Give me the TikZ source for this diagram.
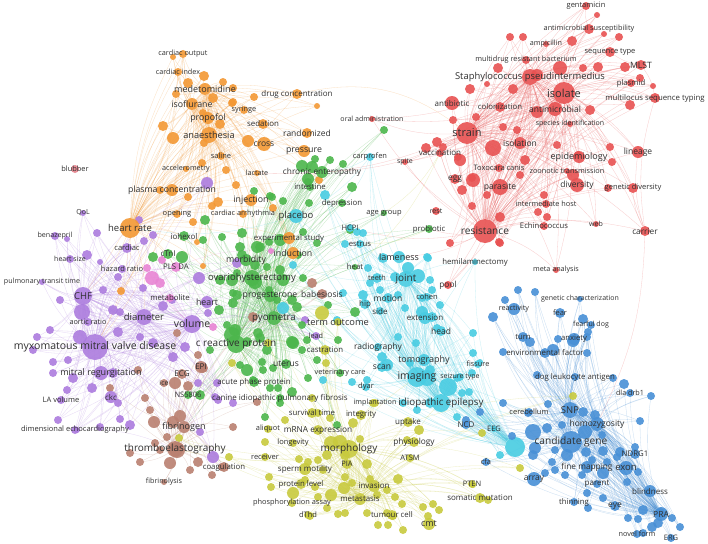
\documentclass[tikz,border=0pt]{standalone}
\usepackage{fontspec}
\setmainfont{Open Sans}
\pgfdeclarelayer{bg}\pgfdeclarelayer{fg}\pgfsetlayers{bg,main,fg}
\definecolor{cR}{RGB}{232,82,82}
\definecolor{cO}{RGB}{243,152,52}
\definecolor{cG}{RGB}{76,182,76}
\definecolor{cB}{RGB}{72,144,214}
\definecolor{cY}{RGB}{200,202,62}
\definecolor{cP}{RGB}{172,124,222}
\definecolor{cC}{RGB}{72,204,226}
\definecolor{cBr}{RGB}{186,128,112}
\definecolor{cPk}{RGB}{232,132,212}
\definecolor{cRl}{RGB}{230,130,140}
\definecolor{txt}{RGB}{48,48,48}
\tikzset{
 bub/.style={circle,inner sep=0pt,draw=none,fill opacity=0.9},
 lab/.style={inner sep=0pt,text=txt},
 lnk/.style={draw=#1,line width=0.3pt,draw opacity=0.3,bend left=12}
}
\newcommand\D[5]{\node[bub,fill=#5,minimum size={2*#4pt}] (#1) at (#2,#3) {};}
\newcommand\K[7]{\D{#1}{#2}{#3}{#4}{#5}\begin{pgfonlayer}{fg}\node[lab,font=\fontsize{#6}{#6}\selectfont] (#1t) at (#2,#3) {#7};\end{pgfonlayer}}
\begin{document}
\begin{tikzpicture}[x=1pt,y=-1pt]
\begin{pgfonlayer}{bg}
\fill[white] (0,0) rectangle (708,543);
\end{pgfonlayer}
\path[use as bounding box] (0,0) rectangle (708,543);
% ---------- red dots
\foreach \n/\x/\y/\q in {1/510/37/4,2/523/37/4,3/572/41/5,4/597/15/3,5/604/34/3,6/619/37/4,7/498/68/5,8/537/75/6,9/560/68/7,10/583/68/4,11/598/67/5,12/625/67/5,13/640/78/4,14/653/86/3,15/630/105/5,16/470/89/5,17/487/84/3,18/513/89/5,19/537/112/6,20/476/117/4,21/503/127/4,22/493/148/8,23/517/130/4,24/557/145/4,25/578/155/4,26/610/147/4,27/612/162/4,28/573/175/6,29/520/175/4,30/472/178/4,31/426/148/5,32/437/142/5,33/443/147/4,34/453/120/4,35/462/190/5,36/473/180/7,37/487/195/4,38/472/206/4,39/500/217/5,40/458/157/4,41/450/243/4,42/500/243/4,43/547/217/4,44/538/212/4,45/499/242/4,46/608/188/4,47/544/195/4,48/460/160/6,49/525/160/5,50/590/110/5}
 {\D{r\n}{\x}{\y}{\q}{cR}}
% ---------- orange dots
\foreach \n/\x/\y/\q in {1/173/57/3,2/204/76/5,3/188/83/5,4/223/82/4,5/176/94/4,6/213/98/5,7/232/103/4,8/203/113/4,9/220/124/5,10/163/126/5,11/173/138/6,12/204/143/4,13/202/163/4,14/233/88/4,15/233/102/4,16/254/97/4,17/317/106/3,18/248/141/6,19/319/180/4,20/160/190/4,21/193/222/4,22/212/206/4,23/218/202/5,24/197/242/3,25/203/266/3,26/188/197/4,27/273/208/4,28/121/291/4,29/236/185/4,30/226/170/4}
 {\D{o\n}{\x}{\y}{\q}{cO}}
% ---------- purple dots
\foreach \n/\x/\y/\q in {1/207/183/6,2/97/233/4,3/67/239/3,4/87/255/5,5/100/262/3,6/144/241/4,7/153/235/4,8/139/220/4,9/118/277/4,10/103/290/4,11/82/312/8,12/113/310/5,13/120/312/4,14/163/306/5,15/172/300/4,16/199/278/6,17/208/313/4,18/50/330/4,19/37/337/4,20/80/337/7,21/118/332/5,22/140/337/4,23/153/343/5,24/173/357/5,25/53/362/4,26/68/360/4,27/73/378/5,28/92/388/5,29/67/390/4,30/53/373/4,31/113/373/5,32/118/403/4,33/58/420/4,34/130/425/5,35/120/419/4,36/77/430/3,37/100/427/4,38/198/383/4,39/217/383/4,40/200/432/4,41/213/457/6,42/218/400/4,43/233/403/4,44/185/347/5,45/305/320/4,46/237/263/5,47/215/397/4,48/143/288/4,49/60/300/4,50/33/350/4}
 {\D{p\n}{\x}{\y}{\q}{cP}}
% ---------- pink dots
\foreach \n/\x/\y/\q in {1/152/278/7,2/147/268/4,3/162/260/4,4/160/283/5,5/271/251/3,6/213/327/4}
 {\D{k\n}{\x}{\y}{\q}{cPk}}
% ---------- brown dots
\foreach \n/\x/\y/\q in {1/312/283/5,2/253/317/5,3/177/333/4,4/198/355/4,5/203/368/5,6/188/386/5,7/175/383/6,8/145/398/4,9/257/402/4,10/138/370/4,11/110/388/4,12/150/410/4,13/154/422/6,14/173/422/6,15/180/416/6,16/167/437/4,17/155/443/4,18/177/450/8,19/170/463/6,20/198/462/5,21/212/475/4,22/160/450/4,23/130/453/4,24/233/427/4,25/190/470/4,26/222/467/4,27/140/462/4}
 {\D{n\n}{\x}{\y}{\q}{cBr}}
% ---------- green dots
\foreach \n/\x/\y/\q in {1/352/187/5,2/309/203/4,3/272/197/4,4/242/233/5,5/260/247/5,6/280/240/6,7/298/255/4,8/242/255/5,9/255/265/5,10/280/270/5,11/303/278/4,12/232/280/6,13/255/282/7,14/269/290/4,15/237/295/5,16/277/300/4,17/297/307/5,18/328/305/4,19/235/330/6,20/258/333/5,21/293/343/6,22/302/325/4,23/307/340/4,24/338/340/4,25/317/360/4,26/355/312/5,27/308/182/4,28/254/191/4,29/270/196/4,30/283/201/4,31/303/232/4,32/302/166/6,33/315/159/4,34/312/167/6,35/330/160/4,36/308/179/6,37/343/164/4,38/384/130/4,39/205/220/5,40/222/237/4,41/203/240/4,42/153/257/5,43/182/257/6,44/240/247/5,45/257/247/6,46/269/242/4,47/317/243/4,48/267/267/4,49/283/280/6,50/237/273/4,51/233/293/4,52/233/303/5,53/227/325/4,54/232/335/8,55/247/342/5,56/260/338/5,57/267/350/5,58/292/342/6,59/302/350/4,60/273/368/4,61/262/362/4,62/247/370/6,63/240/365/4,64/253/380/4,65/270/388/4,66/292/392/5,67/265/417/4,68/210/350/4,69/219/310/5,70/308/378/4,71/337/425/4,72/278/388/4,73/263/370/4,74/280/403/4,75/200/395/5,76/292/300/5,77/220/280/5,78/350/230/4}
 {\D{g\n}{\x}{\y}{\q}{cG}}
% ---------- yellow dots
\foreach \n/\x/\y/\q in {1/322/313/7,2/268/343/4,3/232/363/4,4/179/438/4,5/229/457/4,6/326/363/4,7/373/403/4,8/353/423/5,9/360/439/4,10/331/443/7,11/340/442/7,12/327/455/5,13/318/460/4,14/308/462/4,15/299/459/4,16/367/464/5,17/323/470/4,18/345/477/4,19/305/480/4,20/315/487/4,21/331/495/6,22/318/497/4,23/269/477/4,24/271/487/4,25/293/493/6,26/344/488/6,27/352/483/4,28/370/479/4,29/398/479/5,30/387/490/4,31/377/495/4,32/395/497/4,33/402/504/4,34/387/513/4,35/393/516/4,36/378/525/4,37/388/525/4,38/403/530/4,39/367/513/4,40/338/514/4,41/345/513/4,42/327/508/4,43/310/516/4,44/423/507/4,45/433/504/4,46/439/510/4,47/428/516/4,48/265/442/4,49/312/398/4,50/330/418/4,51/318/413/4,52/419/430/5,53/407/440/4,54/573/396/4,55/482/433/4,56/520/468/4,57/488/500/4,58/473/485/3,59/285/420/4,60/345/455/5}
 {\D{y\n}{\x}{\y}{\q}{cY}}
% ---------- cyan dots
\foreach \n/\x/\y/\q in {1/357/232/4,2/363/233/4,3/345/244/4,4/383/258/5,5/427/257/4,6/368/268/4,7/408/268/6,8/418/276/7,9/395/277/5,10/380/290/4,11/370/283/4,12/363/295/5,13/398/295/4,14/428/258/4,15/430/280/4,16/432/290/4,17/422/298/4,18/405/308/4,19/422/312/6,20/440/305/4,21/432/317/5,22/337/320/4,23/343/293/4,24/293/265/4,25/283/308/6,26/398/337/4,27/382/357/5,28/416/343/4,29/437/328/4,30/387/365/6,31/410/363/4,32/430/370/5,33/448/387/9,34/427/378/8,35/457/378/4,36/430/403/5,37/417/410/4,38/403/403/4,39/457/417/4,40/323/380/4,41/367/380/4,42/352/382/4,43/472/373/4,44/469/392/4,45/462/393/4,46/500/455/4,47/473/333/4,48/473/353/4,49/480/362/3,50/325/195/5}
 {\D{c\n}{\x}{\y}{\q}{cC}}
\D{cBig}{515}{447}{10}{cC}
% ---------- blue dots
\foreach \n/\x/\y/\q in {1/537/375/4,2/613/378/4,3/624/384/5,4/651/396/4,5/503/403/4,6/548/404/4,7/583/412/5,8/595/415/5,9/640/421/4,10/480/412/4,11/533/432/8,12/547/428/5,13/512/436/4,14/585/432/7,15/602/435/4,16/562/425/4,17/535/448/6,18/533/455/5,19/555/450/4,20/567/455/6,21/586/452/5,22/603/451/5,23/620/452/5,24/635/447/4,25/552/462/4,26/545/473/4,27/555/470/4,28/565/475/4,29/582/475/4,30/592/460/4,31/603/473/6,32/607/462/4,33/617/457/4,34/627/482/4,35/638/472/4,36/648/492/4,37/643/510/5,38/660/513/5,39/652/527/5,40/658/523/5,41/672/518/4,42/680/527/4,43/628/518/4,44/638/519/4,45/643/533/4,46/587/493/4,47/588/508/4,48/603/498/4,49/518/290/4,50/535/292/4,51/493/317/5,52/505/300/4,53/583/319/5,54/588/332/4,55/587/337/4,56/573/341/6,57/558/339/4,58/530/342/5,59/553/350/6,60/503/352/4,61/587/353/4,62/528/413/4,63/466/420/4}
 {\D{u\n}{\x}{\y}{\q}{cB}}
% ---------- labelled keywords: red
\K{rGen}{586}{6}{4}{cR}{7.5}{gentamicin}
\K{rAms}{589}{29}{5}{cR}{7.3}{antimicrobial susceptibility}
\K{rAmp}{546}{44}{3}{cR}{7.2}{ampicillin}
\K{rSeq}{610}{52}{5}{cR}{7.5}{sequence type}
\K{rMdr}{526}{60}{4}{cR}{7.3}{multidrug resistant bacterium}
\K{rMlst}{641}{65}{5}{cR}{8.7}{MLST}
\K{rSta}{530}{77}{8}{cR}{9.4}{Staphylococcus pseudintermedius}
\K{rPla}{631}{83}{4}{cR}{7.7}{plasmid}
\K{rIso}{564}{93}{11}{cR}{11}{isolate}
\K{rMlt}{655}{98}{5}{cR}{7.8}{multilocus sequence typing}
\K{rAbx}{452}{103}{7}{cR}{8}{antibiotic}
\K{rCol}{500}{107}{5}{cR}{7.8}{colonization}
\K{rAmi}{555}{109}{7}{cR}{8.5}{antimicrobial}
\K{rSpi}{570}{124}{3}{cR}{7}{species identification}
\K{rStr}{467}{133}{11}{cR}{11}{strain}
\K{rIsl}{520}{143}{6}{cR}{8.5}{isolation}
\K{rEpi}{579}{157}{6}{cR}{9}{epidemiology}
\K{rLin}{638}{152}{6}{cR}{8.5}{lineage}
\K{rVac}{440}{153}{4}{cR}{8}{vaccination}
\K{rSpite}{405}{162}{3}{cR}{7}{spite}
\K{rTox}{499}{168}{4}{cR}{7.5}{Toxocara canis}
\K{rZoo}{567}{171}{3}{cR}{7.3}{zoonotic transmission}
\K{rEgg}{455}{179}{5}{cR}{8.3}{egg}
\K{rPar}{500}{187}{8}{cR}{8.6}{parasite}
\K{rDiv}{577}{185}{7}{cR}{8.5}{diversity}
\K{rGdiv}{633}{188}{5}{cR}{7.5}{genetic diversity}
\K{rHost}{546}{204}{4}{cR}{7.3}{intermediate host}
\K{rRest}{436}{211}{4}{cR}{7}{rest}
\K{rEch}{544}{226}{4}{cR}{7.7}{Echinococcus}
\K{rWeb}{596}{224}{3}{cR}{7}{web}
\K{rRes}{485}{231}{12}{cR}{10.2}{resistance}
\K{rCar}{645}{231}{5}{cR}{8.3}{carrier}
\K{rMeta}{556}{270}{3}{cR}{7.2}{meta analysis}
\K{rOral}{372}{119}{3}{cR}{7.1}{oral administration}
\K{rPool}{448}{285}{4}{cR}{8.3}{pool}
\K{rBlub}{75}{169}{4}{cRl}{7.4}{blubber}
% ---------- orange
\K{oCo}{183}{54}{4}{cO}{7.3}{cardiac output}
\K{oCi}{178}{72}{4}{cO}{7.2}{cardiac index}
\K{oMed}{205}{89}{6}{cO}{9}{medetomidine}
\K{oIso}{192}{104}{6}{cO}{8.8}{isoflurane}
\K{oPro}{208}{118}{6}{cO}{8.8}{propofol}
\K{oAna}{209}{135}{8}{cO}{9.2}{anaesthesia}
\K{oSal}{221}{156}{4}{cO}{7.5}{saline}
\K{oAcc}{186}{169}{3}{cO}{7.2}{accelerometry}
\K{oDrug}{297}{94}{5}{cO}{8}{drug concentration}
\K{oSyr}{244}{110}{4}{cO}{7.3}{syringe}
\K{oSed}{263}{124}{5}{cO}{7.9}{sedation}
\K{oCross}{264}{144}{7}{cO}{8.5}{cross}
\K{oRand}{307}{133}{5}{cO}{8.5}{randomized}
\K{oPress}{304}{151}{6}{cO}{8.8}{pressure}
\K{oLac}{257}{173}{3}{cO}{7.2}{lactate}
\K{oPlas}{172}{190}{6}{cO}{8.7}{plasma concentration}
\K{oHR}{130}{228}{10}{cO}{9.5}{heart rate}
\K{oOpen}{177}{214}{4}{cO}{7.5}{opening}
\K{oInj}{251}{200}{6}{cO}{8.8}{injection}
\K{oArr}{243}{214}{4}{cO}{7.3}{cardiac arrhythmia}
\K{oExp}{289}{238}{6}{cO}{7.8}{experimental study}
\K{oInd}{293}{253}{6}{cO}{8.8}{induction}
% ---------- green
\K{gChr}{322}{172}{6}{cG}{8.3}{chronic enteropathy}
\K{gInt}{310}{187}{4}{cG}{7.8}{intestine}
\K{gDep}{342}{203}{4}{cG}{7.8}{depression}
\K{gIoh}{184}{236}{5}{cG}{8}{iohexol}
\K{gTni}{168}{254}{5}{cG}{8}{cTnI}
\K{gMor}{246}{260}{6}{cG}{8.8}{morbidity}
\K{gOvh}{252}{278}{8}{cG}{9.5}{ovariohysterectomy}
\K{gProg}{270}{296}{6}{cG}{8.7}{progesterone}
\K{gPyo}{274}{318}{7}{cG}{9.7}{pyometra}
\K{gCrp}{236}{344}{9}{cG}{10}{c reactive protein}
\K{gUt}{286}{364}{5}{cG}{8.5}{uterus}
\K{gApp}{254}{382}{5}{cG}{7.9}{acute phase protein}
\K{gCipf}{280}{398}{4}{cG}{8}{canine idiopathic pulmonary fibrosis}
\K{gAge}{384}{213}{3}{cG}{7.5}{age group}
\K{gProb}{429}{229}{4}{cG}{7.8}{probiotic}
\K{gHeat}{355}{267}{3}{cG}{7.7}{heat}
\K{gVet}{340}{373}{4}{cG}{7.3}{veterinary care}
\K{gNs}{188}{395}{4}{cG}{7.5}{NS5806}
% ---------- purple / pink
\K{pQol}{83}{213}{3}{cP}{7}{QoL}
\K{pBen}{55}{236}{4}{cP}{7.1}{benazepril}
\K{pHs}{70}{259}{4}{cP}{7}{heart size}
\K{pCar}{127}{248}{5}{cP}{7.6}{cardiac}
\K{pHaz}{122}{269}{4}{cP}{7.5}{hazard ratio}
\K{pPtt}{42}{282}{3}{cP}{7.1}{pulmonary transit time}
\K{pChf}{83}{296}{9}{cP}{9.5}{CHF}
\K{pAor}{88}{322}{4}{cP}{7.3}{aortic ratio}
\K{pDia}{144}{317}{8}{cP}{9.5}{diameter}
\K{pVol}{192}{324}{9}{cP}{10.5}{volume}
\K{pMmvd}{95}{347}{13}{cP}{10.5}{myxomatous mitral valve disease}
\K{pMr}{101}{373}{7}{cP}{9}{mitral regurgitation}
\K{pLa}{61}{400}{4}{cP}{7.5}{LA volume}
\K{pCkc}{111}{397}{6}{cP}{8}{ckc}
\K{pDe}{75}{430}{4}{cP}{7.5}{dimensional echocardiography}
\K{pHeart}{207}{302}{6}{cP}{8.8}{heart}
\K{pLead}{316}{336}{4}{cP}{7.2}{lead}
\K{kPls}{176}{267}{5}{cPk}{7.8}{PLS DA}
\K{kMet}{170}{298}{4}{cPk}{7.8}{metabolite}
% ---------- brown
\K{nBab}{322}{294}{5}{cBr}{8.5}{babesiosis}
\K{nEcg}{182}{374}{5}{cBr}{8}{ECG}
\K{nEpi}{201}{367}{6}{cBr}{8}{EPI}
\K{nIce}{164}{383}{4}{cBr}{7}{ice}
\K{nFib}{184}{427}{6}{cBr}{9}{fibrinogen}
\K{nTeg}{175}{449}{8}{cBr}{10}{thromboelastography}
\K{nCoa}{224}{467}{5}{cBr}{7.8}{coagulation}
\K{nFbl}{164}{482}{3}{cBr}{7.2}{fibrinolysis}
% ---------- yellow
\K{yTerm}{338}{322}{4}{cY}{9.3}{term outcome}
\K{yCas}{325}{350}{5}{cY}{7.8}{castration}
\K{ySurv}{312}{413}{5}{cY}{7.8}{survival time}
\K{yIntg}{361}{415}{5}{cY}{7.8}{integrity}
\K{yAli}{268}{429}{4}{cY}{7.4}{aliquot}
\K{yMrna}{318}{430}{5}{cY}{8.3}{mRNA expression}
\K{yLong}{293}{443}{4}{cY}{7.5}{longevity}
\K{yMor}{349}{449}{9}{cY}{10}{morphology}
\K{yRec}{265}{457}{4}{cY}{7.5}{receiver}
\K{yPia}{347}{464}{5}{cY}{7.5}{PIA}
\K{ySperm}{305}{469}{6}{cY}{8}{sperm motility}
\K{yProt}{301}{484}{5}{cY}{7.8}{protein level}
\K{yInv}{374}{486}{6}{cY}{8}{invasion}
\K{yPhos}{292}{503}{4}{cY}{7.4}{phosphorylation assay}
\K{yMet}{360}{499}{6}{cY}{7.9}{metastasis}
\K{yDthd}{308}{515}{4}{cY}{7.5}{dThd}
\K{yTum}{392}{515}{5}{cY}{7.8}{tumour cell}
\K{yCmt}{429}{524}{6}{cY}{9}{cmt}
\K{yUpt}{408}{422}{5}{cY}{8}{uptake}
\K{yPhy}{414}{442}{5}{cY}{8.3}{physiology}
\K{yAtsm}{410}{458}{4}{cY}{7.5}{ATSM}
\K{yImp}{375}{403}{4}{cY}{7.2}{implantation}
\K{yPten}{472}{484}{4}{cY}{7.5}{PTEN}
\K{ySom}{480}{498}{5}{cY}{8}{somatic mutation}
% ---------- cyan
\K{cCarp}{370}{157}{4}{cC}{7.5}{carprofen}
\K{cPlac}{296}{216}{7}{cC}{9.5}{placebo}
\K{cHcpi}{350}{228}{4}{cC}{7.5}{HCPI}
\K{cEst}{360}{244}{4}{cC}{7.7}{estrus}
\K{cLame}{399}{257}{6}{cC}{9}{lameness}
\K{cTeeth}{377}{278}{5}{cC}{7.3}{teeth}
\K{cJoint}{406}{279}{8}{cC}{10}{joint}
\K{cCoh}{427}{297}{4}{cC}{7.5}{cohen}
\K{cMot}{388}{298}{5}{cC}{8.5}{motion}
\K{cHip}{365}{304}{5}{cC}{8}{hip}
\K{cSide}{380}{311}{4}{cC}{8}{side}
\K{cExt}{425}{318}{6}{cC}{8}{extension}
\K{cHead}{441}{331}{5}{cC}{8.5}{head}
\K{cRad}{378}{347}{4}{cC}{8.5}{radiography}
\K{cTom}{424}{360}{6}{cC}{9}{tomography}
\K{cScan}{382}{367}{5}{cC}{8.5}{scan}
\K{cImg}{417}{377}{10}{cC}{10.5}{imaging}
\K{cDyar}{366}{387}{4}{cC}{7.5}{dyar}
\K{cSeiz}{460}{377}{4}{cC}{7}{seizure type}
\K{cIe}{441}{403}{9}{cC}{9.8}{idiopathic epilepsy}
\K{cFis}{478}{364}{4}{cC}{7.3}{fissure}
\K{cHemi}{475}{262}{3}{cC}{7.8}{hemilaminectomy}
\K{cEeg}{494}{429}{3}{cC}{7.5}{EEG}
% ---------- blue
\K{uNcd}{466}{425}{4}{cB}{8}{NCD}
\K{uCfa}{486}{462}{4}{cB}{7.5}{cfa}
\K{uArr}{534}{479}{7}{cB}{8.5}{array}
\K{uCer}{529}{412}{4}{cB}{7.5}{cerebellum}
\K{uSnp}{570}{410}{8}{cB}{9.5}{SNP}
\K{uHom}{597}{424}{7}{cB}{8.5}{homozygosity}
\K{uCg}{571}{442}{11}{cB}{10.2}{candidate gene}
\K{uNdrg}{635}{454}{5}{cB}{7.8}{NDRG1}
\K{uFine}{587}{467}{6}{cB}{8.3}{fine mapping}
\K{uExon}{626}{468}{7}{cB}{9.5}{exon}
\K{uPar}{597}{484}{4}{cB}{8}{parent}
\K{uBli}{650}{491}{6}{cB}{8}{blindness}
\K{uThin}{574}{502}{4}{cB}{7.7}{thinning}
\K{uEye}{615}{506}{5}{cB}{8.5}{eye}
\K{uPra}{661}{514}{7}{cB}{8.5}{PRA}
\K{uNov}{637}{534}{4}{cB}{7.3}{novel form}
\K{uErg}{671}{538}{4}{cB}{7.5}{ERG}
\K{uDla}{630}{393}{4}{cB}{7.2}{dla drb1}
\K{uDog}{575}{377}{4}{cB}{7.8}{dog leukocyte antigen}
\K{uGc}{580}{299}{3}{cB}{7}{genetic characterization}
\K{uReac}{514}{309}{6}{cB}{7.2}{reactivity}
\K{uFear}{560}{313}{5}{cB}{7.5}{fear}
\K{uFd}{591}{325}{4}{cB}{7}{fearful dog}
\K{uTurn}{523}{337}{5}{cB}{7.7}{turn}
\K{uAnx}{574}{339}{6}{cB}{7.7}{anxiety}
\K{uEnv}{545}{353}{5}{cB}{7.9}{environmental factor}
% ================= links
\begin{pgfonlayer}{bg}
% red
\foreach \h in {rIso,rStr,rRes,rSta}{
 \foreach \i in {1,...,50}{\draw[lnk=cR] (\h) to (r\i);}
 \foreach \n in {rGen,rAms,rAmp,rSeq,rMdr,rMlst,rPla,rMlt,rAbx,rCol,rAmi,rSpi,rIsl,rEpi,rLin,rVac,rSpite,rTox,rZoo,rEgg,rPar,rDiv,rGdiv,rHost,rRest,rEch,rWeb,rCar,rMeta,rOral,rPool}{\draw[lnk=cR] (\h) to (\n);}}
\foreach \a/\b in {rIso/rStr,rIso/rRes,rIso/rSta,rStr/rRes,rStr/rSta,rRes/rSta,rPar/rTox,rPar/rEch,rPar/rHost,rPar/rEgg,rMlst/rSeq,rMlst/rMlt,rCar/rLin,rCar/rGdiv,rCar/rMlt,rAms/rAmp,rAms/rGen}{\draw[lnk=cR] (\a) to (\b);}
% orange
\foreach \h in {oHR,oAna,oMed,oIso}{
 \foreach \i in {1,...,30}{\draw[lnk=cO] (\h) to (o\i);}
 \foreach \n in {oCo,oCi,oPro,oSal,oAcc,oDrug,oSyr,oSed,oCross,oRand,oPress,oLac,oPlas,oOpen,oInj,oArr,oExp,oInd}{\draw[lnk=cO] (\h) to (\n);}}
\foreach \a/\b in {oHR/oAna,oHR/oMed,oHR/oIso,oAna/oMed,oAna/oIso,oMed/oIso,oCo/oHR,oCi/oHR,oCo/oPlas,oCross/oPress,oCross/oRand,oDrug/oPlas}{\draw[lnk=cO] (\a) to (\b);}
% green
\foreach \h in {gOvh,gCrp,gPyo,gProg}{
 \foreach \i in {1,...,78}{\draw[lnk=cG] (\h) to (g\i);}
 \foreach \n in {gChr,gInt,gDep,gIoh,gTni,gMor,gUt,gApp,gCipf,gAge,gProb,gHeat,gVet,gNs}{\draw[lnk=cG] (\h) to (\n);}}
\foreach \a/\b in {gOvh/gCrp,gOvh/gPyo,gOvh/gProg,gCrp/gPyo,gCrp/gProg,gPyo/gProg}{\draw[lnk=cG] (\a) to (\b);}
% purple
\foreach \h in {pMmvd,pChf,pDia,pVol}{
 \foreach \i in {1,...,50}{\draw[lnk=cP] (\h) to (p\i);}
 \foreach \n in {pQol,pBen,pHs,pCar,pHaz,pPtt,pAor,pMr,pLa,pCkc,pDe,pHeart,pLead,kPls,kMet}{\draw[lnk=cP] (\h) to (\n);}}
\foreach \a/\b in {pMmvd/pChf,pMmvd/pDia,pMmvd/pVol,pChf/pDia,pChf/pVol,pDia/pVol,pMmvd/nTeg,pChf/nTeg,pMr/nFib,pDe/nTeg,pMmvd/nCoa}{\draw[lnk=cP] (\a) to (\b);}
\foreach \h in {pVol,kPls}{\foreach \i in {1,...,6}{\draw[lnk=cPk] (\h) to (k\i);}}
% brown
\foreach \h in {nTeg,nFib}{
 \foreach \i in {1,...,27}{\draw[lnk=cBr] (\h) to (n\i);}
 \foreach \n in {nBab,nEcg,nEpi,nIce,nCoa,nFbl}{\draw[lnk=cBr] (\h) to (\n);}}
\draw[lnk=cBr] (nTeg) to (nFib);
% yellow
\foreach \h in {yMor,yMet,yInv}{
 \foreach \i in {1,...,60}{\draw[lnk=cY] (\h) to (y\i);}
 \foreach \n in {yTerm,yCas,ySurv,yIntg,yAli,yMrna,yLong,yRec,yPia,ySperm,yProt,yPhos,yDthd,yTum,yCmt,yUpt,yPhy,yAtsm,yImp,yPten,ySom}{\draw[lnk=cY] (\h) to (\n);}}
\foreach \a/\b in {yMor/yMet,yMor/yInv,yMet/yInv}{\draw[lnk=cY] (\a) to (\b);}
% cyan
\foreach \h in {cImg,cIe,cJoint,cBig}{
 \foreach \i in {1,...,50}{\draw[lnk=cC] (\h) to (c\i);}
 \foreach \n in {cCarp,cPlac,cHcpi,cEst,cLame,cTeeth,cCoh,cMot,cHip,cSide,cExt,cHead,cRad,cTom,cScan,cDyar,cSeiz,cFis,cHemi,cEeg}{\draw[lnk=cC] (\h) to (\n);}}
\foreach \a/\b in {cImg/cIe,cImg/cJoint,cImg/cBig,cIe/cJoint,cIe/cBig,cJoint/cBig,cBig/uCg,cBig/uArr,cBig/uSnp,cBig/uCfa,cBig/uNcd,cIe/uCg,cImg/uCg,cCarp/gChr,cCarp/gDep,cCarp/cPlac,cPlac/gOvh,cPlac/gCrp,cPlac/oHR}{\draw[lnk=cC] (\a) to (\b);}
% blue
\foreach \h in {uCg,uSnp,uHom,uPra}{
 \foreach \i in {1,...,63}{\draw[lnk=cB] (\h) to (u\i);}
 \foreach \n in {uNcd,uCfa,uArr,uCer,uNdrg,uFine,uExon,uPar,uBli,uThin,uEye,uNov,uErg,uDla,uDog,uGc,uReac,uFear,uFd,uTurn,uAnx,uEnv}{\draw[lnk=cB] (\h) to (\n);}}
\foreach \a/\b in {uCg/uSnp,uCg/uHom,uCg/uPra,uSnp/uHom,uSnp/uPra,uHom/uPra}{\draw[lnk=cB] (\a) to (\b);}
% cross-cluster
\foreach \a/\b in {oHR/pChf,oHR/pMmvd,oHR/pDia,oHR/pCar,oHR/gIoh,oHR/gTni,oHR/gOvh,oHR/kPls,oAna/gOvh,oMed/gCrp,oInj/gOvh,oInd/gOvh,oPlas/pMmvd,oExp/gCrp,oIso/gPyo,oCo/pChf,oCi/pMmvd}{\draw[lnk=cO] (\a) to (\b);}
\foreach \a/\b in {rStr/oLac,rRes/cHcpi,rRes/gProb,rRes/cLame,rCar/uHom,rStr/gChr}{\draw[lnk=cR] (\a) to (\b);}
\draw[lnk=cO,bend left=25] (oDrug) to (rStr);
\foreach \a/\b in {rVac/gAge,rVac/gHeat,gProb/cEst}{\draw[lnk=cY] (\a) to (\b);}
\foreach \a/\b in {yMor/gCrp,yMor/gPyo,yTerm/gPyo,yMor/cImg,yPhy/cIe,yMor/nTeg,gCrp/yCas}{\draw[lnk=cY] (\a) to (\b);}
\foreach \a/\b in {gCrp/nFib,gCrp/pVol,gOvh/pDia,gPyo/nBab}{\draw[lnk=cG] (\a) to (\b);}
\end{pgfonlayer}
\end{tikzpicture}
\end{document}
